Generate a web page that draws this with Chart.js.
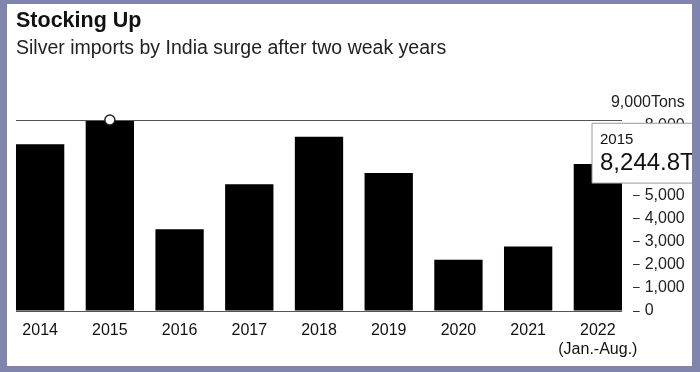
<!DOCTYPE html>
<html>
<head>
<meta charset="utf-8">
<title>Stocking Up</title>
<script src="https://cdn.jsdelivr.net/npm/chart.js@4.4.1/dist/chart.umd.min.js"></script>
<style>
  html, body { margin:0; padding:0; background:#fff; }
  #wrap { position:relative; width:700px; height:372px; overflow:hidden; background:#fff; font-family:"Liberation Sans", Arial, sans-serif; }
  #chart { position:absolute; left:0; top:0; }
  .head { position:absolute; left:16px; margin:0; white-space:nowrap; }
  #title { top:9.5px; font-size:21.5px; line-height:21.5px; font-weight:bold; color:#111; }
  #subtitle { top:37.5px; font-size:19.5px; line-height:19.5px; color:#222; }
  #frame { position:absolute; left:0; top:0; width:700px; height:372px; box-sizing:border-box; border-style:solid; border-color:#7f85ad; border-width:4px 8px 6px 7px; pointer-events:none; }
</style>
</head>
<body>
<div id="wrap">
  <canvas id="chart" width="760" height="372"></canvas>
  <div class="head" id="title">Stocking Up</div>
  <div class="head" id="subtitle">Silver imports by India surge after two weak years</div>
  <div id="frame"></div>
</div>
<script>
// India silver imports in tons; 2022 is Jan.-Aug. only
const years = ['2014','2015','2016','2017','2018','2019','2020','2021','2022'];
const lastNote = '(Jan.-Aug.)';
const imports = [7200, 8244.8, 3530, 5470, 7525, 5960, 2210, 2785, 6350];
const yTicks = [0, 1000, 2000, 3000, 4000, 5000, 6000, 7000, 8000, 9000];
const unit = 'Tons';
const hoverIndex = 1; // the bar shown with its tooltip (2015)

const family = '"Liberation Sans", Arial, sans-serif';
const topTick = yTicks[yTicks.length - 1];
const fmt = v => v.toLocaleString('en-US');

Chart.defaults.font.family = family;
Chart.defaults.color = '#111';

// tooltip pinned at the right edge, just under the hovered bar top
Chart.Tooltip.positioners.pinned = function(items){
  if(!items.length) return false;
  const ca = this.chart.chartArea;
  return { x: ca.right - 40.7, y: items[0].element.y + 3.3 };
};

// baseline, hover line + marker, and the "9,000Tons" top label
const extras = {
  id: 'extras',
  afterDatasetsDraw(chart){
    const ctx = chart.ctx;
    const bars = chart.getDatasetMeta(0).data;
    const first = bars[0], last = bars[bars.length - 1];
    const left = first.x - first.width / 2;
    const right = last.x + last.width / 2;
    const ys = chart.scales.y;
    const y0 = Math.round(ys.getPixelForValue(0)) + 0.5;

    ctx.save();
    ctx.strokeStyle = '#555';
    ctx.lineWidth = 1;
    ctx.beginPath();
    ctx.moveTo(left, y0);
    ctx.lineTo(right, y0);
    ctx.stroke();

    const act = chart.tooltip.getActiveElements();
    if(act.length){
      const el = act[0].element;
      const yh = Math.round(el.y) + 0.5;
      ctx.beginPath();
      ctx.moveTo(left, yh);
      ctx.lineTo(right, yh);
      ctx.stroke();
      ctx.beginPath();
      ctx.arc(el.x, el.y, 5, 0, Math.PI * 2);
      ctx.fillStyle = '#fff';
      ctx.fill();
      ctx.strokeStyle = '#222';
      ctx.lineWidth = 1.5;
      ctx.stroke();
    }

    // top tick label carries the unit, right-aligned with the other labels
    ctx.font = '16px ' + family;
    ctx.fillStyle = '#222';
    ctx.textAlign = 'right';
    ctx.textBaseline = 'middle';
    const xr = ys.left + 7 + 5 + ctx.measureText('0,000').width;
    ctx.fillText(fmt(topTick) + unit, xr, ys.getPixelForValue(topTick));
    ctx.restore();
  }
};

const labels = years.map((y, i) => i === years.length - 1 ? [y, lastNote] : y);

const chart = new Chart(document.getElementById('chart').getContext('2d'), {
  type: 'bar',
  data: {
    labels,
    datasets: [{
      data: imports,
      backgroundColor: '#000',
      hoverBackgroundColor: '#000',
      borderWidth: 0,
      categoryPercentage: 1,
      barPercentage: 0.693
    }]
  },
  options: {
    responsive: false,
    animation: false,
    events: [],
    layout: { padding: { top: 102.5, left: 5.28, right: 0, bottom: 0 } },
    plugins: {
      legend: { display: false },
      title: { display: false },
      tooltip: {
        enabled: true,
        position: 'pinned',
        xAlign: 'left',
        yAlign: 'top',
        caretSize: 0,
        caretPadding: 0,
        cornerRadius: 0,
        backgroundColor: '#fff',
        borderColor: '#9a9a9a',
        borderWidth: 1,
        titleColor: '#111',
        bodyColor: '#111',
        titleFont: { size: 15, weight: 'normal' },
        bodyFont: { size: 24 },
        titleMarginBottom: 0,
        padding: { top: 8, bottom: 5, left: 8, right: 8 },
        displayColors: false,
        callbacks: {
          title: items => years[items[0].dataIndex],
          label: c => fmt(c.parsed.y) + unit
        }
      }
    },
    scales: {
      x: {
        grid: { display: false },
        border: { display: false },
        ticks: { color: '#111', font: { size: 16 }, padding: 2, maxRotation: 0, autoSkip: false },
        afterFit(s){ s.height = 61; }
      },
      y: {
        position: 'right',
        min: 0,
        max: topTick,
        afterBuildTicks(s){ s.ticks = yTicks.map(v => ({ value: v })); },
        grid: {
          drawOnChartArea: false,
          drawTicks: true,
          tickLength: 7,
          tickColor: c => (c.tick && c.tick.value === topTick) ? 'rgba(0,0,0,0)' : '#333'
        },
        border: { display: false },
        ticks: {
          color: '#222',
          font: { size: 16 },
          padding: 5,
          callback: v => v === topTick ? '' : fmt(v)
        },
        afterFit(s){ s.width = 127.28; }
      }
    }
  },
  plugins: [extras]
});

chart.tooltip.setActiveElements([{ datasetIndex: 0, index: hoverIndex }], { x: 0, y: 0 });
chart.update();
</script>
</body>
</html>
